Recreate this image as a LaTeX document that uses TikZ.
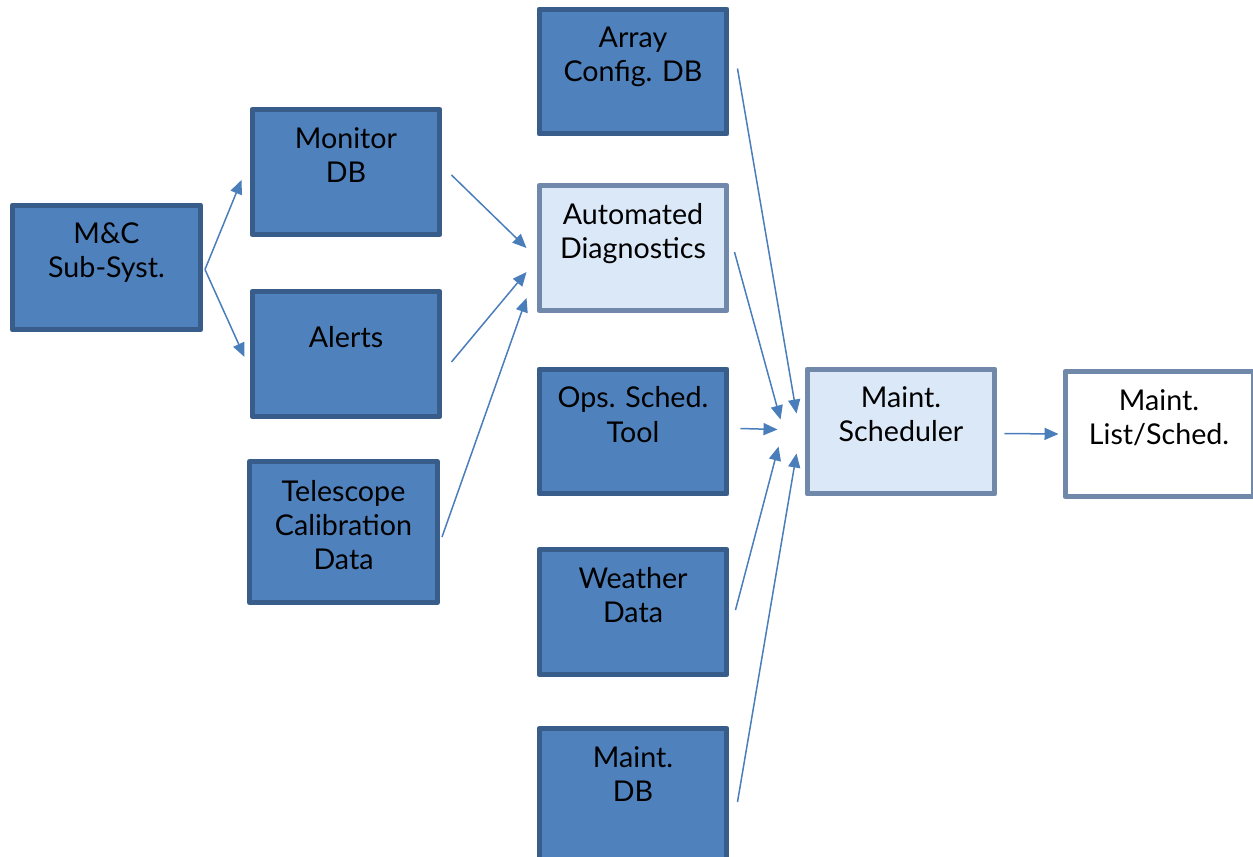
\documentclass[tikz,border=0pt]{standalone}
\usepackage{fontspec}
\setmainfont{Lato}
\usetikzlibrary{arrows.meta,calc}
\definecolor{boxblue}{HTML}{4F81BD}
\definecolor{boxedge}{HTML}{385D8A}
\definecolor{paleblue}{HTML}{DBE8F8}
\definecolor{paleedge}{HTML}{7088AA}
\definecolor{arrowblue}{HTML}{4A7EBB}
\begin{document}
\begin{tikzpicture}[x=0.02cm, y=-0.02cm,
    darkbox/.style={draw=boxedge, fill=boxblue, line width=0.1cm, line join=round,
        minimum width=3.76cm, minimum height=2.5cm, inner sep=0pt},
    palebox/.style={darkbox, draw=paleedge, fill=paleblue},
    whitebox/.style={darkbox, draw=paleedge, fill=white},
    boxtext/.style={anchor=north, align=center, inner sep=0pt,
        font=\fontsize{16.3}{19.4}\selectfont},
    arr/.style={draw=arrowblue, line width=0.03cm, -{Triangle[length=0.28cm, width=0.24cm]}}]
    \useasboundingbox (0,0) rectangle (1253,856);
    \clip (0,0) rectangle (1253,856);
    % boxes
    \node[darkbox] (mc) at (106.5,267.5) {};
    \node[darkbox] (mon) at (346,172) {};
    \node[darkbox] (alert) at (346,354) {};
    \node[darkbox, minimum height=2.82cm] (tel) at (343.5,532) {};
    \node[darkbox] (arr) at (633,71.5) {};
    \node[palebox] (auto) at (633,248) {};
    \node[darkbox] (ops) at (633,431.5) {};
    \node[darkbox] (wea) at (633,612) {};
    \node[darkbox, minimum height=2.7cm] (mdb) at (633,796) {};
    \node[palebox] (sch) at (901,431.5) {};
    \node[whitebox] (lst) at (1159,434) {};
    % texts
    \node[boxtext] (mc-t) at ($(mc.north)+(0,20)$) {M\&C\\Sub-Syst.};
    \node[boxtext] (mon-t) at ($(mon.north)+(0,20)$) {Monitor\\DB};
    \node[boxtext] (alert-t) at ($(alert.north)+(0,37)$) {Alerts};
    \node[boxtext] (tel-t) at ($(tel.north)+(0,21)$) {Telescope\\Calibration\\Data};
    \node[boxtext] (arr-t) at ($(arr.north)+(0,20)$) {Array\\Config. DB};
    \node[boxtext] (auto-t) at ($(auto.north)+(0,20)$) {Automated\\Diagnostics};
    \node[boxtext] (ops-t) at ($(ops.north)+(0,20)$) {Ops. Sched.\\Tool};
    \node[boxtext] (wea-t) at ($(wea.north)+(0,20)$) {Weather\\Data};
    \node[boxtext] (mdb-t) at ($(mdb.north)+(0,20)$) {Maint.\\DB};
    \node[boxtext] (sch-t) at ($(sch.north)+(0,20)$) {Maint.\\Scheduler};
    \node[boxtext] (lst-t) at ($(lst.north)+(0,20)$) {Maint.\\List/Sched.};
    % arrows
    \draw[arr] ($(mc.east)+(2,2)$) -- ($(mon.west)+(-8,8)$);
    \draw[arr] ($(mc.east)+(2,2)$) -- ($(alert.west)+(-5,3)$);
    \draw[arr] ($(mon.east)+(9,3)$) -- ($(auto.west)+(-10,0)$);
    \draw[arr] ($(alert.east)+(9,8)$) -- ($(auto.west)+(-10,24)$);
    \draw[arr] ($(tel.east)+(2,5)$) -- ($(auto.west)+(-10,50)$);
    \draw[arr] ($(arr.east)+(8,-3)$) -- ($(sch.west)+(-8,-18)$);
    \draw[arr] ($(auto.east)+(5,4)$) -- ($(sch.west)+(-24,-12)$);
    \draw[arr] ($(ops.east)+(11,-3)$) -- ($(sch.west)+(-27,-2)$);
    \draw[arr] ($(wea.east)+(6,-2)$) -- ($(sch.west)+(-26,15)$);
    \draw[arr] ($(mdb.east)+(8,6)$) -- ($(sch.west)+(-8,22)$);
    \draw[arr] ($(sch.east)+(7,2)$) -- ($(lst.west)+(-4,0)$);
\end{tikzpicture}
\end{document}
